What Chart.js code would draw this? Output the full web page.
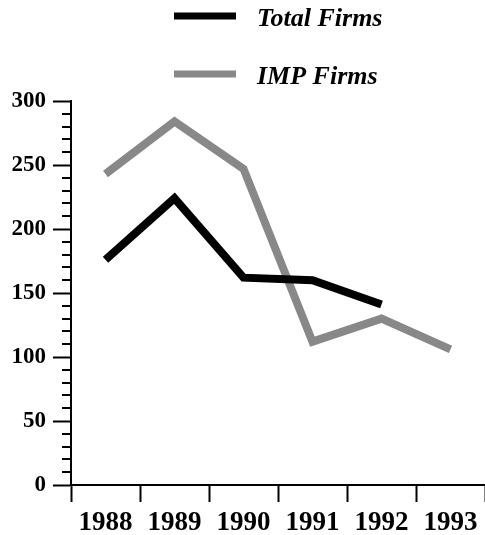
<!DOCTYPE html>
<html>
<head>
<meta charset="utf-8">
<script src="https://cdn.jsdelivr.net/npm/chart.js@4"></script>
<style>
  html, body { margin: 0; padding: 0; background: #fff; }
  #wrap { width: 485px; height: 535px; position: relative; }
</style>
</head>
<body>
<div id="wrap"><canvas id="chart"></canvas></div>
<script>
const years = ['1988', '1989', '1990', '1991', '1992', '1993'];
const totalFirms = [176, 224, 162, 160, 141, null];
const impFirms = [243, 284, 247, 112, 130, 106];
const yTicks = [0, 50, 100, 150, 200, 250, 300];

const serif = '"Liberation Serif", "Times New Roman", serif';

// minor ticks on the y axis every 10 units + stacked legend on top
const extras = {
    id: 'extras',
    afterDraw(chart) {
        const ctx = chart.ctx;
        const y = chart.scales.y;
        ctx.save();
        ctx.strokeStyle = '#000';
        ctx.lineWidth = 2;
        for (let v = 0; v <= 300; v += 10) {
            if (v % 50 === 0) continue;
            const py = Math.round(y.getPixelForValue(v));
            ctx.beginPath();
            ctx.moveTo(y.right - 9, py);
            ctx.lineTo(y.right, py);
            ctx.stroke();
        }
        // legend
        const rows = [16, 74];
        ctx.font = 'italic bold 26px ' + serif;
        ctx.textBaseline = 'middle';
        ctx.textAlign = 'left';
        chart.data.datasets.forEach((ds, i) => {
            const ry = rows[i];
            ctx.strokeStyle = ds.borderColor;
            ctx.lineWidth = 7;
            ctx.lineCap = 'butt';
            ctx.beginPath();
            ctx.moveTo(174, ry);
            ctx.lineTo(236, ry);
            ctx.stroke();
            ctx.fillStyle = '#000';
            ctx.fillText(ds.label, 257, ry + 3);
        });
        ctx.restore();
    }
};

new Chart(document.getElementById('chart'), {
    type: 'line',
    data: {
        labels: years,
        datasets: [
            {
                label: 'Total Firms',
                data: totalFirms,
                borderColor: '#000000',
                borderWidth: 8,
                pointRadius: 0,
                tension: 0,
                fill: false
            },
            {
                label: 'IMP Firms',
                data: impFirms,
                borderColor: '#888888',
                borderWidth: 8,
                pointRadius: 0,
                tension: 0,
                fill: false
            }
        ]
    },
    options: {
        responsive: true,
        maintainAspectRatio: false,
        animation: false,
        layout: { padding: { top: 101, left: 0, right: 0, bottom: 0 } },
        plugins: {
            legend: { display: false },
            tooltip: { enabled: false }
        },
        scales: {
            x: {
                offset: true,
                grid: {
                    offset: true,
                    drawOnChartArea: false,
                    tickLength: 17,
                    tickWidth: 2,
                    tickColor: '#000'
                },
                border: { color: '#000', width: 2 },
                ticks: {
                    color: '#000',
                    padding: 5,
                    maxRotation: 0,
                    font: { family: serif, size: 27, weight: 'bold' }
                },
                afterFit: s => { s.height = 50; }
            },
            y: {
                min: 0,
                max: 300,
                afterBuildTicks: s => { s.ticks = yTicks.map(v => ({ value: v })); },
                grid: {
                    drawOnChartArea: false,
                    tickLength: 18,
                    tickWidth: 2,
                    tickColor: '#000'
                },
                border: { color: '#000', width: 2 },
                ticks: {
                    color: '#000',
                    padding: 7,
                    font: { family: serif, size: 23, weight: 'bold' }
                },
                afterFit: s => { s.width = 71; }
            }
        }
    },
    plugins: [extras]
});
</script>
</body>
</html>
